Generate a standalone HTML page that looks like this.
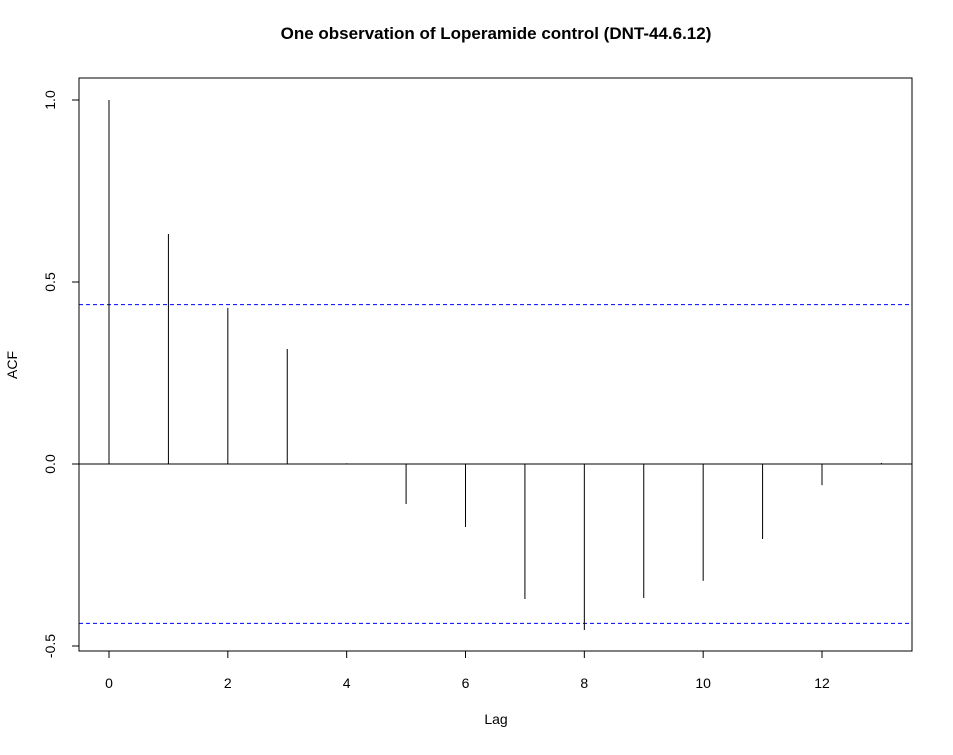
<!DOCTYPE html>
<html><head><meta charset="utf-8"><style>
body{margin:0;background:#fff}
text{font-family:"Liberation Sans",sans-serif;fill:#000}
</style></head><body>
<svg id="c" width="953" height="750" xmlns="http://www.w3.org/2000/svg">
<text x="496" y="39" text-anchor="middle" font-size="17" font-weight="bold">One observation of Loperamide control (DNT-44.6.12)</text>
<rect x="79" y="78" width="833" height="573" fill="none" stroke="#000"/>
<text x="496" y="724" text-anchor="middle" font-size="14">Lag</text>
<text transform="translate(17,365) rotate(-90)" text-anchor="middle" font-size="14">ACF</text>
<g id="g"></g>
</svg>
<script>
const lags=[0,1,2,3,4,5,6,7,8,9,10,11,12,13];
const acf=[1.0,0.632,0.429,0.316,0.002,-0.110,-0.173,-0.371,-0.456,-0.368,-0.321,-0.206,-0.058,0.003];
const ci=[0.438,-0.438];
const xTicks=[0,2,4,6,8,10,12];
const yTicks=[-0.5,0.0,0.5,1.0];
const yTickLabels=["-0.5","0.0","0.5","1.0"];
const NS="http://www.w3.org/2000/svg";
const g=document.getElementById('g');
const X=v=>109+v*(822-109)/12;
const Y=v=>464-v*364;
function mk(t,a){const e=document.createElementNS(NS,t);for(const k in a)e.setAttribute(k,a[k]);g.appendChild(e);return e;}
let e=mk('line',{x1:79,x2:912,y1:Y(0),y2:Y(0),stroke:'#000'});


ci.forEach((c,i)=>{const l=mk('line',{x1:79,x2:912,y1:Y(c),y2:Y(c),stroke:'#00f','stroke-dasharray':'4,3'});

});
lags.forEach((k,i)=>{const l=mk('line',{x1:X(k),x2:X(k),y1:Y(0),y2:Y(acf[i]),stroke:'#000'});

});
mk('line',{x1:X(xTicks[0]),x2:X(xTicks[xTicks.length-1]),y1:651,y2:651,stroke:'#000'});
xTicks.forEach(t=>{mk('line',{x1:X(t),x2:X(t),y1:651,y2:658,stroke:'#000'});
const tx=mk('text',{x:X(t),y:688,'text-anchor':'middle','font-size':14});tx.textContent=t;

});
yTicks.forEach((t,i)=>{mk('line',{x1:72,x2:79,y1:Y(t),y2:Y(t),stroke:'#000'});
const tx=mk('text',{transform:`translate(55,${Y(t)}) rotate(-90)`,'text-anchor':'middle','font-size':14});tx.textContent=yTickLabels[i];

});
mk('line',{x1:79,x2:79,y1:Y(-0.5),y2:Y(1),stroke:'#000'});
</script>
</body></html>
